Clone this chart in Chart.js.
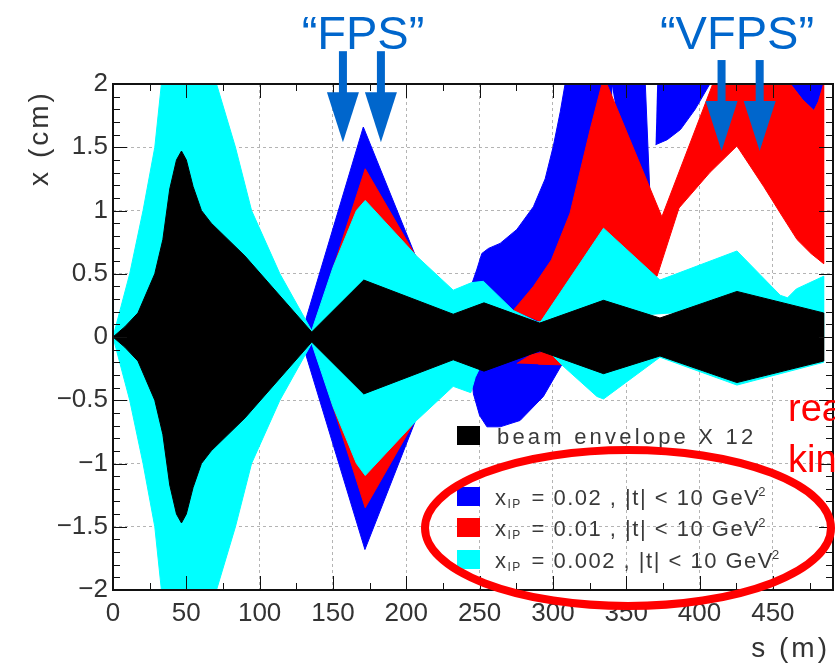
<!DOCTYPE html>
<html>
<head>
<meta charset="utf-8">
<script src="https://cdn.jsdelivr.net/npm/chart.js@4.4.1/dist/chart.umd.min.js"></script>
<style>
  html, body { margin: 0; padding: 0; background: #fff; }
  #wrap { width: 835px; height: 670px; }
</style>
</head>
<body>
<div id="wrap"><canvas id="beamChart" width="835" height="670"></canvas></div>
<script>
// axis ticks
const sStep = 50;
const xStep = 0.5;

// beam envelope x 12 (upper edge, mirrored below)
const beamS = [0, 8, 17, 28.5, 34, 38.7, 43.3, 46.7, 50, 54.6, 60.3, 67, 90, 135.5, 171, 232, 253, 291, 334.5, 373, 425.5, 484.6];
const beamX = [0, 0.08, 0.19, 0.5, 0.77, 1.17, 1.4, 1.47, 1.4, 1.19, 1.0, 0.9, 0.64, 0.04, 0.45, 0.18, 0.27, 0.11, 0.29, 0.15, 0.36, 0.19];

// xIP = 0.002 (cyan)
const cyanLeftS = [0, 5, 11.4, 20.5, 28.5, 33, 40, 55, 70.6, 83.5, 94.5, 113.8, 135.5];
const cyanLeftX = [0, 0.22, 0.5, 1.0, 1.5, 2.0, 2.9, 2.9, 2.0, 1.5, 1.0, 0.5, 0.05];
const cyanUpS = [135.5, 150, 166, 172, 207, 232, 244.6, 252.6, 273, 291, 334.5, 373, 425.5, 455, 460, 466, 484.6, 484.6, 464, 458, 135.5];
const cyanUpX = [0.05, 0.55, 1.0, 1.08, 0.64, 0.37, 0.43, 0.44, 0.21, 0.11, 0.86, 0.45, 0.68, 0.33, 0.31, 0.38, 0.48, 0, 0.24, 0.25, 0];
const cyanLo1S = [135.5, 150, 166, 172, 207, 232, 244, 247, 252, 252, 135.5];
const cyanLo1X = [-0.05, -0.55, -1.0, -1.095, -0.66, -0.39, -0.44, -0.32, -0.2, 0, 0];
const cyanLo2S = [296, 306, 330, 334.5, 373, 425.5, 484.6, 484.6, 296];
const cyanLo2X = [-0.1, -0.22, -0.47, -0.49, -0.16, -0.38, -0.2, 0, 0];

// xIP = 0.01 (red)
const redFpsS = [135.5, 172, 207, 207, 172, 135.5];
const redFpsX = [0.02, 1.33, 0.63, -0.64, -1.35, -0.02];
const redUpS = [273, 286.7, 299, 311.7, 325.4, 333.4, 335, 336.8, 374.3, 409, 411, 460, 462, 470, 478, 481, 484.6,
                484.6, 476, 466.5, 455, 443.7, 425.5, 407, 386, 371, 340, 300, 291];
const redUpX = [0.21, 0.4, 0.61, 0.98, 1.64, 2.0, 2.08, 2.0, 0.95, 2.0, 2.4, 2.4, 2.0, 1.88, 1.79, 1.86, 2.0,
                0.58, 0.66, 0.77, 0.98, 1.19, 1.51, 1.30, 1.02, 0.48, 0.5, 0.15, 0.12];
const redLoS = [275.4, 285, 293.5, 300, 306, 290];
const redLoX = [-0.21, -0.14, -0.12, -0.15, -0.22, -0.215];

// xIP = 0.02 (blue)
const blueFpsS = [131, 170.7, 207, 207, 171.8, 131];
const blueFpsX = [0.12, 1.66, 0.62, -0.64, -1.68, -0.12];
const blueUpS = [243, 245, 248, 251.5, 256, 264, 275.4, 286.7, 294.7, 300.3, 305, 308.3, 312, 340, 340, 291, 273];
const blueUpX = [0.3, 0.43, 0.53, 0.66, 0.7, 0.74, 0.85, 1.03, 1.25, 1.51, 1.78, 2.0, 2.4, 2.4, 0.3, 0.08, 0.15];
const blueStripeS = [334, 362, 363, 366, 352];
const blueStripeX = [2.4, 2.4, 2.0, 1.17, 1.2];
const blueMidS = [370, 378, 387, 397, 407, 410, 372];
const blueMidX = [1.52, 1.56, 1.64, 1.8, 2.0, 2.4, 2.4];
const blueTopS = [462, 470, 478, 481, 484.6, 484.6, 462];
const blueTopX = [2.0, 1.88, 1.79, 1.86, 2.0, 2.4, 2.4];
const blueLoS = [244, 245.8, 250, 255, 264, 277.6, 293.5, 306, 290, 255];
const blueLoX = [-0.25, -0.45, -0.62, -0.71, -0.71, -0.66, -0.47, -0.22, -0.1, -0.2];

// legend
const legendColors = ['#000000', '#0000ff', '#ff0000', '#00ffff'];
const xipValues = ['0.02', '0.01', '0.002'];

// arrows: s position, x of the tip (cm)
const fpsArrowS = [156.8, 182.7];
const fpsArrowTip = 1.54;
const vfpsArrowS = [415, 441];
const vfpsArrowTip = 1.47;

const pts = (s, v) => s.map((si, i) => ({ x: si, y: v[i] }));
const mirrored = (s, v) => pts(s, v).concat(pts(s.slice().reverse(), v.slice().reverse().map(a => -a)));

function area(label, data, color, order) {
  return {
    label, data, order,
    backgroundColor: color,
    borderColor: color,
    borderWidth: 1,
    pointRadius: 0,
    tension: 0,
    fill: 'shape'
  };
}

const FONT = '"Liberation Sans", Arial, sans-serif';

const decorations = {
  id: 'decorations',
  afterDatasetsDraw(chart) {
    const { ctx, chartArea: a, scales: { x, y } } = chart;
    ctx.save();
    ctx.strokeStyle = '#111';
    ctx.lineWidth = 1;
    ctx.beginPath();
    for (let v = 0; v <= x.max; v += 25) {
      const px = Math.round(x.getPixelForValue(v)) + 0.5;
      const len = v % 50 === 0 ? 14 : 7;
      ctx.moveTo(px, a.bottom); ctx.lineTo(px, a.bottom - len);
      ctx.moveTo(px, a.top); ctx.lineTo(px, a.top + len);
    }
    for (let i = -20; i <= 20; i++) {
      const py = Math.round(y.getPixelForValue(i / 10)) + 0.5;
      const len = i % 5 === 0 ? 14 : 7;
      ctx.moveTo(a.left, py); ctx.lineTo(a.left + len, py);
      ctx.moveTo(a.right, py); ctx.lineTo(a.right - len, py);
    }
    ctx.stroke();
    ctx.lineWidth = 2;
    ctx.strokeRect(a.left, a.top, a.right - a.left, a.bottom - a.top);
    ctx.restore();
  },
  afterDraw(chart) {
    const { ctx, scales: { x, y } } = chart;
    ctx.save();

    // axis titles
    ctx.fillStyle = '#333';
    ctx.font = '28px ' + FONT;
    ctx.letterSpacing = '3px';
    ctx.textAlign = 'right';
    ctx.textBaseline = 'alphabetic';
    ctx.fillText('s (m)', 830, 657);
    ctx.save();
    ctx.translate(48, 138);
    ctx.rotate(-Math.PI / 2);
    ctx.textAlign = 'center';
    ctx.fillText('x (cm)', 0, 0);
    ctx.restore();

    // legend
    ctx.textAlign = 'left';
    const rows = [436, 497, 528, 560];
    const boxX = 457;
    rows.forEach((cy, i) => {
      ctx.fillStyle = legendColors[i];
      ctx.fillRect(boxX, cy - 10, 23, 19);
    });
    ctx.fillStyle = '#3a3a3a';
    ctx.font = '22px ' + FONT;
    ctx.letterSpacing = '3.2px';
    ctx.fillText('beam envelope X 12', 497, 444);
    ctx.letterSpacing = '1.5px';
    xipValues.forEach((val, i) => {
      const base = rows[i + 1] + 8;
      let cx = 495;
      ctx.font = '22px ' + FONT;
      ctx.fillText('x', cx, base);
      cx += ctx.measureText('x').width;
      ctx.font = '12px ' + FONT;
      ctx.fillText('IP', cx, base + 3);
      cx += ctx.measureText('IP').width + 2;
      ctx.font = '22px ' + FONT;
      const body = ' = ' + val + ' , |t| < 10 GeV';
      ctx.fillText(body, cx, base);
      cx += ctx.measureText(body).width - 2;
      ctx.font = '13px ' + FONT;
      ctx.fillText('2', cx, base - 9);
    });

    // FPS / VFPS labels and arrows
    ctx.letterSpacing = '0px';
    ctx.fillStyle = '#0066cc';
    ctx.font = '47px ' + FONT;
    ctx.textAlign = 'center';
    ctx.fillText('\u201cFPS\u201d', 363, 49);
    ctx.fillText('\u201cVFPS\u201d', 737, 49);
    const arrow = (s, tip) => {
      const px = x.getPixelForValue(s);
      const py = y.getPixelForValue(tip);
      ctx.fillRect(px - 4, py - 91, 8, 43);
      ctx.beginPath();
      ctx.moveTo(px - 16, py - 50);
      ctx.lineTo(px + 16, py - 50);
      ctx.lineTo(px, py);
      ctx.closePath();
      ctx.fill();
    };
    fpsArrowS.forEach(s => arrow(s, fpsArrowTip));
    vfpsArrowS.forEach(s => arrow(s, vfpsArrowTip));

    // red ellipse and side note
    ctx.strokeStyle = '#ff0000';
    ctx.lineWidth = 8;
    ctx.beginPath();
    ctx.ellipse(628, 528, 203, 78, 0, 0, Math.PI * 2);
    ctx.stroke();
    ctx.fillStyle = '#ff0000';
    ctx.font = '38px ' + FONT;
    ctx.textAlign = 'left';
    ctx.fillText('rea', 788, 421);
    ctx.fillText('kin', 788, 472);
    ctx.restore();
  }
};

new Chart(document.getElementById('beamChart'), {
  type: 'line',
  data: {
    datasets: [
      area('beam envelope X 12', mirrored(beamS, beamX), '#000000', 0),
      area('xIP = 0.002', mirrored(cyanLeftS, cyanLeftX), '#00ffff', 1),
      area('xIP = 0.002', pts(cyanUpS, cyanUpX), '#00ffff', 1),
      area('xIP = 0.002', pts(cyanLo1S, cyanLo1X), '#00ffff', 1),
      area('xIP = 0.002', pts(cyanLo2S, cyanLo2X), '#00ffff', 1),
      area('xIP = 0.01', pts(redFpsS, redFpsX), '#ff0000', 2),
      area('xIP = 0.01', pts(redUpS, redUpX), '#ff0000', 2),
      area('xIP = 0.01', pts(redLoS, redLoX), '#ff0000', 2),
      area('xIP = 0.02', pts(blueFpsS, blueFpsX), '#0000ff', 3),
      area('xIP = 0.02', pts(blueUpS, blueUpX), '#0000ff', 3),
      area('xIP = 0.02', pts(blueStripeS, blueStripeX), '#0000ff', 3),
      area('xIP = 0.02', pts(blueMidS, blueMidX), '#0000ff', 3),
      area('xIP = 0.02', pts(blueTopS, blueTopX), '#0000ff', 3),
      area('xIP = 0.02', pts(blueLoS, blueLoX), '#0000ff', 3)
    ]
  },
  options: {
    responsive: false,
    animation: false,
    layout: { padding: { top: 84, right: 2, left: 0, bottom: 0 } },
    plugins: { legend: { display: false }, tooltip: { enabled: false } },
    scales: {
      x: {
        type: 'linear',
        min: 0,
        max: 491,
        afterFit: s => { s.height = 80; },
        ticks: {
          stepSize: sStep,
          includeBounds: false,
          autoSkip: false,
          maxRotation: 0,
          padding: 8,
          color: '#333',
          font: { family: FONT, size: 26 }
        },
        grid: { color: '#b4b4b4', lineWidth: 1, drawTicks: false },
        border: { display: false, dash: [3, 3] }
      },
      y: {
        min: -2,
        max: 2,
        afterFit: s => { s.width = 113; },
        ticks: {
          stepSize: xStep,
          autoSkip: false,
          padding: 5,
          color: '#333',
          font: { family: FONT, size: 26 },
          callback: v => String(v).replace('-', '\u2212')
        },
        grid: { color: '#b4b4b4', lineWidth: 1, drawTicks: false },
        border: { display: false, dash: [3, 3] }
      }
    }
  },
  plugins: [decorations]
});
</script>
</body>
</html>
